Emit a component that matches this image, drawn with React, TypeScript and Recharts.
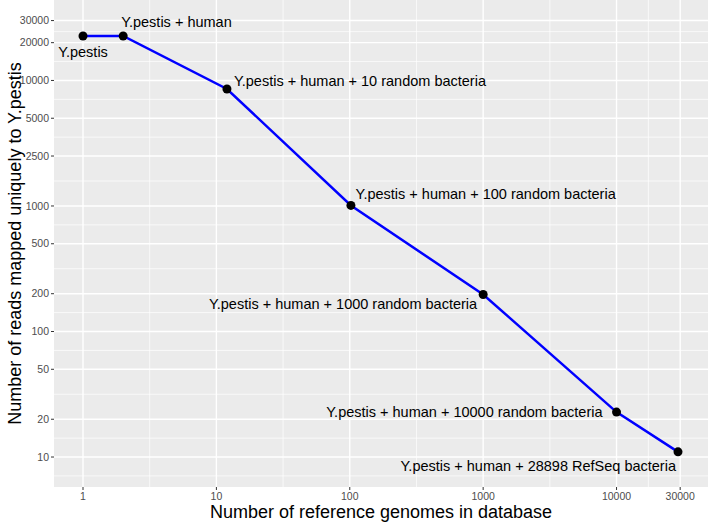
import React from 'react'
import {
  LineChart,
  Line,
  XAxis,
  YAxis,
  ReferenceArea,
  ReferenceLine,
  LabelList,
} from 'recharts'

// values
const genomeCounts = [1, 2, 12, 102, 1000, 10000, 28898]
const uniqueReads = [22600, 22600, 8550, 1010, 197, 22.8, 11]
const pointLabels = [
  'Y.pestis',
  'Y.pestis + human',
  'Y.pestis + human + 10 random bacteria',
  'Y.pestis + human + 100 random bacteria',
  'Y.pestis + human + 1000 random bacteria',
  'Y.pestis + human + 10000 random bacteria',
  'Y.pestis + human + 28898 RefSeq bacteria',
]
const xTicks = [1, 10, 100, 1000, 10000, 30000]
const yTicks = [10, 20, 50, 100, 200, 500, 1000, 2500, 5000, 10000, 20000, 30000]

const xDomain = [0.606, 48500]
const yDomain = [5.77, 43750]

// where each annotation sits relative to its point
const labelPlacement = [
  { anchor: 'middle', dx: 0, dy: 20.7 },
  { anchor: 'start', dx: -2, dy: -8.7 },
  { anchor: 'start', dx: 7, dy: -3 },
  { anchor: 'start', dx: 4.7, dy: -6 },
  { anchor: 'end', dx: -6, dy: 14 },
  { anchor: 'end', dx: -14, dy: 4.7 },
  { anchor: 'end', dx: -2, dy: 19 },
]

const chartData = genomeCounts.map((g, i) => ({
  genomes: g,
  reads: uniqueReads[i],
  label: pointLabels[i],
}))

// ggplot-style minor breaks: geometric midpoints between majors
const mids = (t: number[]) => t.slice(1).map((v, i) => Math.sqrt(v * t[i]))
const xMinor = mids(xTicks)
const yMinor = [yTicks[0] / Math.sqrt(yTicks[1] / yTicks[0]), ...mids(yTicks)]

const FONT = '"Liberation Sans", Arial, sans-serif'
const tickStyle = { fontSize: 10.5, fill: '#4D4D4D', fontFamily: FONT }

function PointLabel(props: any) {
  const { x, y, value, index } = props
  const p = labelPlacement[index]
  return (
    <text
      x={x + p.dx}
      y={y + p.dy}
      textAnchor={p.anchor}
      fontSize={14.5}
      fill="#000"
      fontFamily={FONT}
    >
      {value}
    </text>
  )
}

export default function App() {
  return (
    <div style={{ position: 'absolute', left: 0, top: 0 }}>
      <LineChart
        width={708}
        height={522}
        data={chartData}
        margin={{ top: 0, right: 0, bottom: 0, left: 0 }}
        style={{ fontFamily: FONT }}
      >
        <XAxis
          dataKey="genomes"
          type="number"
          scale="log"
          domain={xDomain}
          allowDataOverflow
          ticks={xTicks}
          interval={0}
          height={35}
          axisLine={false}
          tickSize={3}
          tickMargin={2.5}
          tickLine={{ stroke: '#333333' }}
          tick={tickStyle}
          tickFormatter={(v) => String(v)}
          label={{
            content: ({ viewBox }: any) => (
              <text
                x={viewBox.x + viewBox.width / 2}
                y={viewBox.y + 31}
                textAnchor="middle"
                fontSize={18}
                fill="#000"
                fontFamily={FONT}
              >
                Number of reference genomes in database
              </text>
            ),
          }}
        />
        <YAxis
          type="number"
          scale="log"
          domain={yDomain}
          allowDataOverflow
          ticks={yTicks}
          interval={0}
          width={54}
          axisLine={false}
          tickSize={3}
          tickMargin={2}
          tickLine={{ stroke: '#333333' }}
          tick={tickStyle}
          tickFormatter={(v) => String(v)}
          label={{
            content: ({ viewBox }: any) => {
              const cx = 21
              const cy = viewBox.y + viewBox.height / 2
              return (
                <text
                  x={cx}
                  y={cy}
                  transform={`rotate(-90, ${cx}, ${cy})`}
                  textAnchor="middle"
                  fontSize={18}
                  fill="#000"
                  fontFamily={FONT}
                >
                  Number of reads mapped uniquely to Y.pestis
                </text>
              )
            },
          }}
        />
        <ReferenceArea
          x1={xDomain[0]}
          x2={xDomain[1]}
          y1={yDomain[0]}
          y2={yDomain[1]}
          fill="#EBEBEB"
          fillOpacity={1}
          stroke="none"
        />
        {xMinor.map((v) => (
          <ReferenceLine key={'xm' + v} x={v} stroke="#FFFFFF" strokeWidth={0.7} />
        ))}
        {yMinor.map((v) => (
          <ReferenceLine key={'ym' + v} y={v} stroke="#FFFFFF" strokeWidth={0.7} />
        ))}
        {xTicks.map((v) => (
          <ReferenceLine key={'xM' + v} x={v} stroke="#FFFFFF" strokeWidth={1.4} />
        ))}
        {yTicks.map((v) => (
          <ReferenceLine key={'yM' + v} y={v} stroke="#FFFFFF" strokeWidth={1.4} />
        ))}
        <Line
          dataKey="reads"
          type="linear"
          stroke="#0000FF"
          strokeWidth={2.5}
          dot={{ r: 4.5, fill: '#000', stroke: 'none' }}
          activeDot={false}
          isAnimationActive={false}
        >
          <LabelList dataKey="label" content={PointLabel} />
        </Line>
      </LineChart>
    </div>
  )
}
